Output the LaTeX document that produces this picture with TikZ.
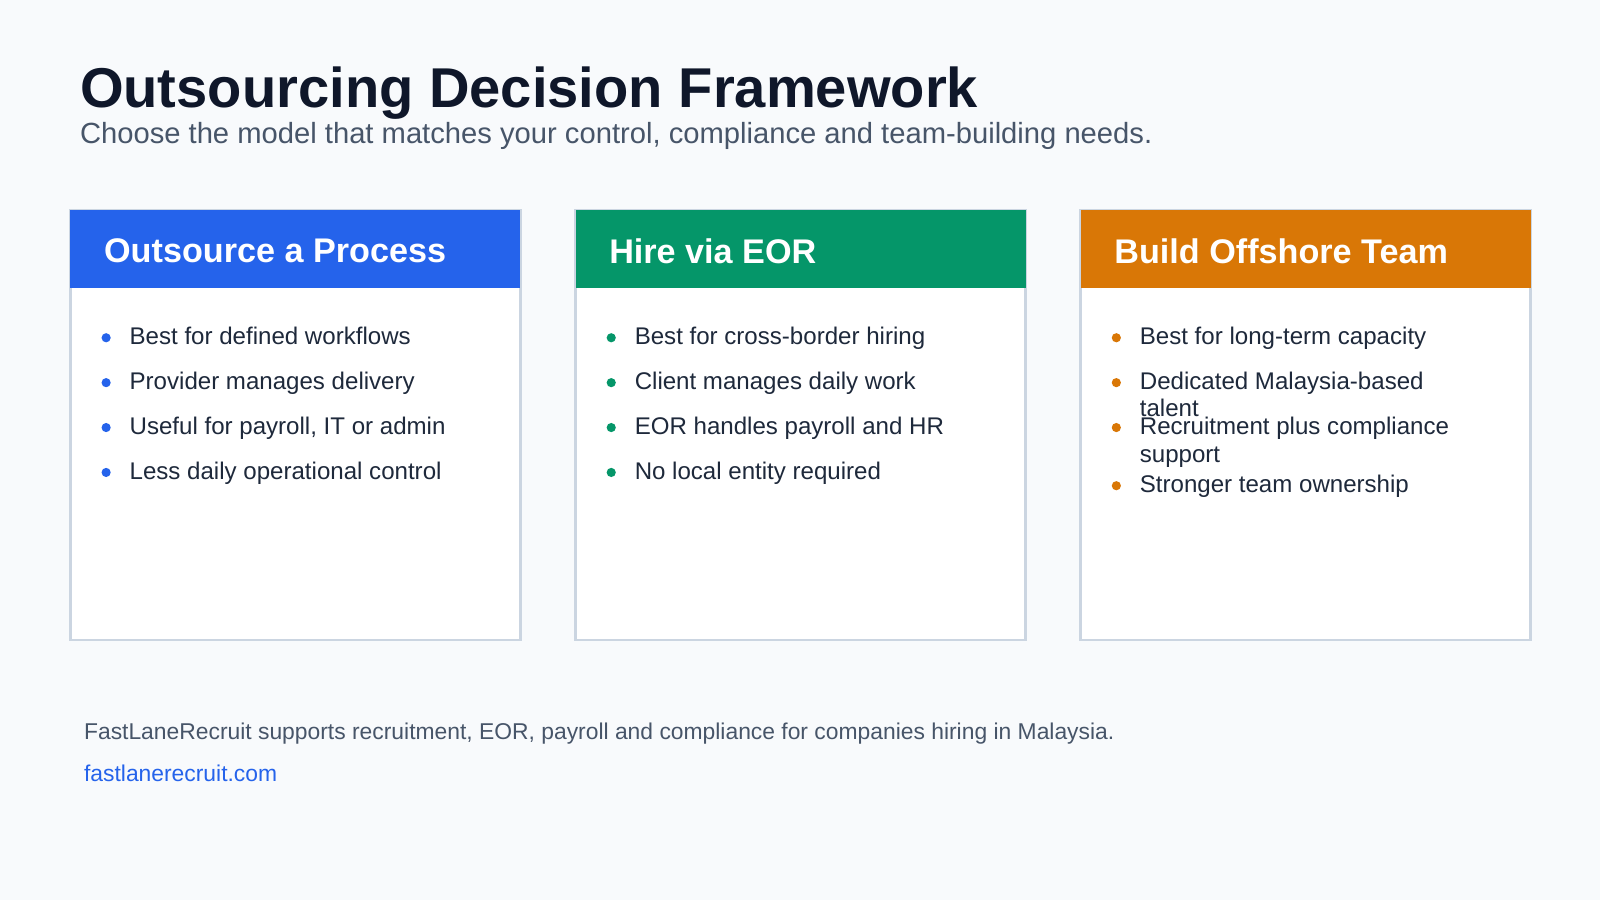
\documentclass[tikz,border=0pt]{standalone}
\usepackage{fontspec}
\setmainfont{Liberation Sans}
\definecolor{bg}{HTML}{F8FAFC}
\definecolor{ttl}{HTML}{0F172A}
\definecolor{sub}{HTML}{475569}
\definecolor{bd}{HTML}{CBD5E1}
\definecolor{cblue}{HTML}{2563EB}
\definecolor{cgreen}{HTML}{059669}
\definecolor{corange}{HTML}{D97706}
\definecolor{txt}{HTML}{1E293B}
\begin{document}
\begin{tikzpicture}[x=0.5pt,y=-0.5pt,
  card/.style={draw=bd,line width=1.2pt,fill=white},
  head/.style={anchor=west,text=white,font=\fontsize{16.75}{19}\selectfont\bfseries},
  item/.style={anchor=west,text=txt,font=\fontsize{11.8}{13}\selectfont,align=left,text height=1.6ex,text depth=0.45ex},
]
\fill[bg] (0,0) rectangle (1568,882);
\useasboundingbox (0,0) rectangle (1568,882);
\node[anchor=base west,inner sep=0,text=ttl,font=\fontsize{27.5}{32}\selectfont\bfseries] (t) at (78,105) {Outsourcing Decision Framework};
\node[anchor=base west,inner sep=0,text=sub,font=\fontsize{14.3}{16}\selectfont] (s) at (78,141) {Choose the model that matches your control, compliance and team-building needs.};
\foreach \x/\c/\h [count=\i] in {69/cblue/Outsource a Process,564/cgreen/Hire via EOR,1059/corange/Build Offshore Team}{
  \draw[card] (\x,206) rectangle ++(441,421);
  \fill[\c] (\x,206) rectangle ++(441,76);
  \node[head] (h\i) at (\x+26,246) {\h};
}
\foreach \y/\t [count=\j] in {332/Best for defined workflows,376/Provider manages delivery,420/{Useful for payroll, IT or admin},464/Less daily operational control}{
  \fill[cblue] (104,\y-1) circle (4.5);
  \node[item] (a\j) at (120,\y) {\t};
}
\foreach \y/\t [count=\j] in {332/Best for cross-border hiring,376/Client manages daily work,420/EOR handles payroll and HR,464/No local entity required}{
  \fill[cgreen] (599,\y-1) circle (4.5);
  \node[item] (b\j) at (615,\y) {\t};
}
\foreach \y/\t [count=\j] in {332/Best for long-term capacity,420/Recruitment plus compliance,477/Stronger team ownership}{
  \fill[corange] (1094,\y-1) circle (4.5);
  \node[item] (c\j) at (1110,\y) {\t};
}
\fill[corange] (1094,375) circle (4.5);
\node[item] (c4) at (1110,376) {Dedicated Malaysia-based};
\node[item] (c5) at (1110,402) {talent};
\node[item] (c6) at (1110,447) {support};
\node[anchor=base west,inner sep=0,text=sub,font=\fontsize{11.2}{13}\selectfont] (f) at (82,725) {FastLaneRecruit supports recruitment, EOR, payroll and compliance for companies hiring in Malaysia.};
\node[anchor=base west,inner sep=0,text=cblue,font=\fontsize{11.2}{13}\selectfont] (u) at (82,766) {fastlanerecruit.com};
\end{tikzpicture}
\end{document}
